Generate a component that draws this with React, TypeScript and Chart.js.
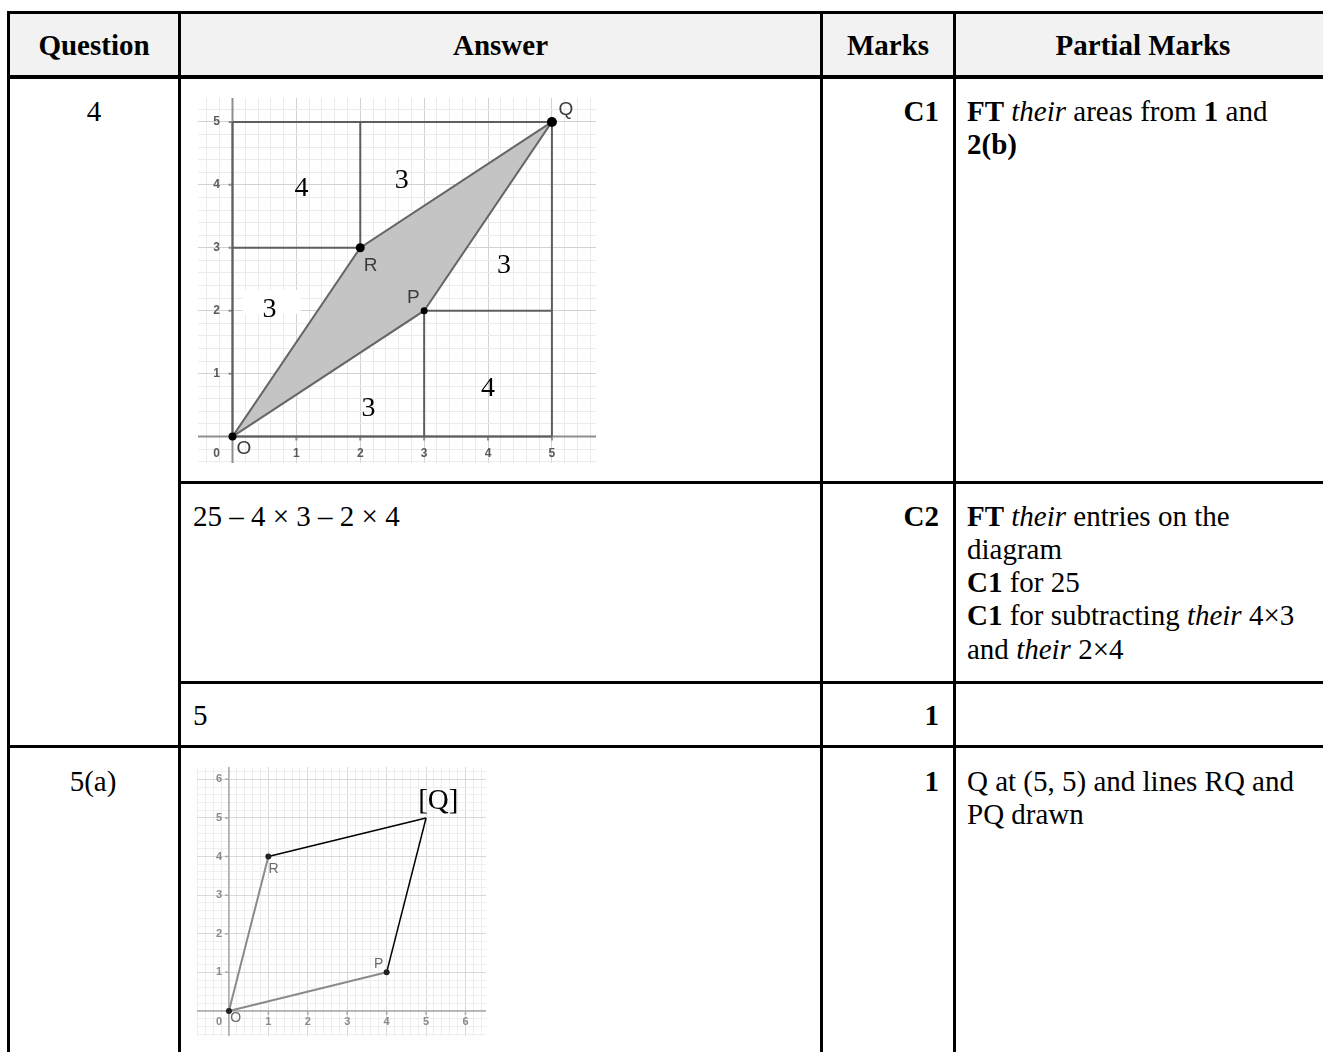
import React, { useEffect, useRef } from "react";
import { Chart, registerables } from "chart.js";

Chart.register(...registerables);

// ---------- Table text ----------
const HEADERS = ["Question", "Answer", "Marks", "Partial Marks"];
const QUESTIONS = ["4", "5(a)"];
const ANSWERS = ["25 – 4 × 3 – 2 × 4", "5"];
const MARKS = ["C1", "C2", "1", "1"];

// ---------- Question 4 diagram ----------
const Q4_RANGE = { xMin: -0.54, xMax: 5.69, yMin: -0.42, yMax: 5.38 };
const Q4_X_TICKS = [1, 2, 3, 4, 5];
const Q4_Y_TICKS = [1, 2, 3, 4, 5];
const Q4_POLY_X = [0, 2, 5, 3, 0];
const Q4_POLY_Y = [0, 3, 5, 2, 0];
const Q4_SEGMENTS = [
  [0, 0, 5, 0],
  [0, 0, 0, 5],
  [0, 5, 5, 5],
  [5, 0, 5, 5],
  [2, 3, 2, 5],
  [0, 3, 2, 3],
  [3, 2, 5, 2],
  [3, 0, 3, 2],
];
const Q4_POINT_X = [0, 2, 3, 5];
const Q4_POINT_Y = [0, 3, 2, 5];
const Q4_POINT_R = [4, 4.5, 3.5, 5];
const Q4_NAMES = ["O", "R", "P", "Q"];
const Q4_NAME_X = [0.18, 2.16, 2.83, 5.22];
const Q4_NAME_Y = [-0.2, 2.72, 2.2, 5.19];
const Q4_AREAS = ["4", "3", "3", "3", "4", "3"];
const Q4_AREA_X = [1.08, 2.65, 4.25, 0.58, 4.0, 2.13];
const Q4_AREA_Y = [3.94, 4.06, 2.71, 2.01, 0.76, 0.44];

// ---------- Question 5(a) diagram ----------
const Q5_RANGE = { xMin: -0.81, xMax: 6.52, yMin: -0.65, yMax: 6.32 };
const Q5_X_TICKS = [1, 2, 3, 4, 5, 6];
const Q5_Y_TICKS = [1, 2, 3, 4, 5, 6];
const Q5_GIVEN = [
  [0, 0, 1, 4],
  [0, 0, 4, 1],
];
const Q5_DRAWN = [
  [1, 4, 5, 5],
  [4, 1, 5, 5],
];
const Q5_POINT_X = [0, 1, 4];
const Q5_POINT_Y = [0, 4, 1];
const Q5_NAMES = ["O", "R", "P"];
const Q5_NAME_X = [0.17, 1.13, 3.8];
const Q5_NAME_Y = [-0.2, 3.68, 1.2];
const Q5_ANSWER_LABEL = "[Q]";
const Q5_ANSWER_X = 5.31;
const Q5_ANSWER_Y = 5.42;

const SERIF = '"Liberation Serif", "Times New Roman", serif';
const SANS = '"Liberation Sans", Arial, sans-serif';

function gridValues(min: number, max: number): number[] {
  const out: number[] = [];
  for (let i = Math.ceil(min * 5); i <= Math.floor(max * 5); i++) out.push(i / 5);
  return out;
}

type Label = { text: string; x: number; y: number; font: string; color: string; bg?: boolean };

type GeoConfig = {
  width: number;
  height: number;
  range: { xMin: number; xMax: number; yMin: number; yMax: number };
  xTicks: number[];
  yTicks: number[];
  tickFont: string;
  tickColor: string;
  xLabelOffset: number;
  yLabelOffset: number;
  axisColor: string;
  axisWidth: number;
  majorGrid: string;
  minorGrid: string;
  datasets: any[];
  labels: Label[];
};

function GeoChart({ cfg, style }: { cfg: GeoConfig; style: React.CSSProperties }) {
  const ref = useRef<HTMLCanvasElement | null>(null);
  useEffect(() => {
    if (!ref.current) return;
    const xs = gridValues(cfg.range.xMin, cfg.range.xMax);
    const ys = gridValues(cfg.range.yMin, cfg.range.yMax);
    const isMajor = (v: number) => Math.abs(v - Math.round(v)) < 1e-6;
    const gridColor = (c: any) => (c.tick && isMajor(c.tick.value) ? cfg.majorGrid : cfg.minorGrid);

    const plugin = {
      id: "geo",
      beforeDatasetsDraw(chart: any) {
        const { ctx, chartArea } = chart;
        const sx = chart.scales.x;
        const sy = chart.scales.y;
        const x0 = sx.getPixelForValue(0);
        const y0 = sy.getPixelForValue(0);
        ctx.save();
        ctx.strokeStyle = cfg.axisColor;
        ctx.lineWidth = cfg.axisWidth;
        ctx.beginPath();
        ctx.moveTo(chartArea.left, y0);
        ctx.lineTo(chartArea.right, y0);
        ctx.moveTo(x0, chartArea.top);
        ctx.lineTo(x0, chartArea.bottom);
        cfg.xTicks.forEach((v) => {
          const px = sx.getPixelForValue(v);
          ctx.moveTo(px, y0);
          ctx.lineTo(px, y0 + 4);
        });
        cfg.yTicks.forEach((v) => {
          const py = sy.getPixelForValue(v);
          ctx.moveTo(x0 - 4, py);
          ctx.lineTo(x0, py);
        });
        ctx.stroke();
        ctx.fillStyle = cfg.tickColor;
        ctx.font = cfg.tickFont;
        ctx.textAlign = "center";
        ctx.textBaseline = "middle";
        cfg.xTicks.forEach((v) => ctx.fillText(String(v), sx.getPixelForValue(v), y0 + cfg.xLabelOffset));
        cfg.yTicks.forEach((v) => ctx.fillText(String(v), x0 + cfg.yLabelOffset, sy.getPixelForValue(v)));
        ctx.fillText("0", x0 + cfg.yLabelOffset, y0 + cfg.xLabelOffset);
        ctx.restore();
      },
      afterDatasetsDraw(chart: any) {
        const { ctx } = chart;
        const sx = chart.scales.x;
        const sy = chart.scales.y;
        ctx.save();
        ctx.textAlign = "center";
        ctx.textBaseline = "middle";
        cfg.labels.forEach((l) => {
          const px = sx.getPixelForValue(l.x);
          const py = sy.getPixelForValue(l.y);
          ctx.font = l.font;
          if (l.bg) {
            ctx.fillStyle = "#ffffff";
            ctx.fillRect(px - 27, py - 20, 58, 24);
          }
          ctx.fillStyle = l.color;
          ctx.fillText(l.text, px, py);
        });
        ctx.restore();
      },
    };

    const chart = new Chart(ref.current, {
      type: "line",
      data: { datasets: cfg.datasets },
      options: {
        animation: false,
        responsive: false,
        maintainAspectRatio: false,
        layout: { padding: 0 },
        plugins: { legend: { display: false }, tooltip: { enabled: false } },
        elements: { line: { tension: 0 } },
        scales: {
          x: {
            type: "linear",
            min: cfg.range.xMin,
            max: cfg.range.xMax,
            ticks: { display: false },
            border: { display: false },
            grid: { drawTicks: false, color: gridColor, lineWidth: 1 },
            afterBuildTicks: (axis: any) => {
              axis.ticks = xs.map((v) => ({ value: v }));
            },
          },
          y: {
            type: "linear",
            min: cfg.range.yMin,
            max: cfg.range.yMax,
            ticks: { display: false },
            border: { display: false },
            grid: { drawTicks: false, color: gridColor, lineWidth: 1 },
            afterBuildTicks: (axis: any) => {
              axis.ticks = ys.map((v) => ({ value: v }));
            },
          },
        },
      } as any,
      plugins: [plugin],
    });
    return () => chart.destroy();
  }, [cfg]);
  return <canvas ref={ref} width={cfg.width} height={cfg.height} style={{ position: "absolute", width: cfg.width, height: cfg.height, ...style }} />;
}

function segmentDatasets(segs: number[][], color: string, width: number, order: number) {
  return segs.map((s) => ({
    data: [
      { x: s[0], y: s[1] },
      { x: s[2], y: s[3] },
    ],
    borderColor: color,
    borderWidth: width,
    pointRadius: 0,
    fill: false,
    order,
  }));
}

const q4Cfg: GeoConfig = {
  width: 408,
  height: 375,
  range: Q4_RANGE,
  xTicks: Q4_X_TICKS,
  yTicks: Q4_Y_TICKS,
  tickFont: `bold 12px ${SANS}`,
  tickColor: "#5a5a5a",
  xLabelOffset: 17,
  yLabelOffset: -16,
  axisColor: "#8e8e8e",
  axisWidth: 2,
  majorGrid: "#d2d2d2",
  minorGrid: "#ebebeb",
  datasets: [
    {
      data: Q4_POINT_X.map((x, i) => ({ x, y: Q4_POINT_Y[i] })),
      showLine: false,
      pointRadius: Q4_POINT_R,
      pointBackgroundColor: "#000",
      pointBorderColor: "#000",
      pointBorderWidth: 0,
      order: 0,
    },
    ...segmentDatasets(Q4_SEGMENTS, "#5e5e5e", 2, 1),
    {
      data: Q4_POLY_X.map((x, i) => ({ x, y: Q4_POLY_Y[i] })),
      borderColor: "#666",
      borderWidth: 2,
      backgroundColor: "#c4c4c4",
      pointRadius: 0,
      fill: "shape",
      order: 2,
    },
  ],
  labels: [
    ...Q4_NAMES.map((t, i) => ({ text: t, x: Q4_NAME_X[i], y: Q4_NAME_Y[i], font: `19px ${SANS}`, color: "#3c3c3c" })),
    ...Q4_AREAS.map((t, i) => ({
      text: t,
      x: Q4_AREA_X[i],
      y: Q4_AREA_Y[i],
      font: `28px ${SERIF}`,
      color: "#000",
      bg: i === 3,
    })),
  ],
};

const q5Cfg: GeoConfig = {
  width: 297,
  height: 277,
  range: Q5_RANGE,
  xTicks: Q5_X_TICKS,
  yTicks: Q5_Y_TICKS,
  tickFont: `bold 11px ${SANS}`,
  tickColor: "#8a8a8a",
  xLabelOffset: 11,
  yLabelOffset: -10,
  axisColor: "#a8a8a8",
  axisWidth: 1.5,
  majorGrid: "#d8d8d8",
  minorGrid: "#eeeeee",
  datasets: [
    {
      data: Q5_POINT_X.map((x, i) => ({ x, y: Q5_POINT_Y[i] })),
      showLine: false,
      pointRadius: 3,
      pointBackgroundColor: "#222",
      pointBorderColor: "#222",
      pointBorderWidth: 0,
      order: 0,
    },
    ...segmentDatasets(Q5_DRAWN, "#000", 1.5, 1),
    ...segmentDatasets(Q5_GIVEN, "#8a8a8a", 2, 2),
  ],
  labels: [
    ...Q5_NAMES.map((t, i) => ({ text: t, x: Q5_NAME_X[i], y: Q5_NAME_Y[i], font: `14px ${SANS}`, color: "#6a6a6a" })),
    { text: Q5_ANSWER_LABEL, x: Q5_ANSWER_X, y: Q5_ANSWER_Y, font: `29px ${SERIF}`, color: "#000" },
  ],
};

const LH = 33.3;

const baseText: React.CSSProperties = {
  position: "absolute",
  fontFamily: SERIF,
  fontSize: 29,
  lineHeight: `${LH}px`,
  whiteSpace: "nowrap",
  color: "#000",
};

function Line({ l, t, w, h }: { l: number; t: number; w: number; h: number }) {
  return <div style={{ position: "absolute", left: l, top: t, width: w, height: h, background: "#000" }} />;
}

export default function App() {
  const hdrT = 28.6;
  const r1 = 94.6;
  const r2 = 499.6;
  const r3 = 698.6;
  const r4 = 764.6;
  const colL = [10, 181, 823, 956];
  const colR = [178, 820, 953, 1330];
  return (
    <div
      style={{
        position: "fixed",
        left: 0,
        top: 0,
        width: 1323,
        height: 1052,
        overflow: "hidden",
        background: "#fff",
      }}
    >
      <div style={{ position: "absolute", left: 10, top: 14, width: 1320, height: 61, background: "#f2f2f2" }} />

      {HEADERS.map((h, i) => (
        <div
          key={h}
          style={{ ...baseText, top: hdrT, left: colL[i], width: colR[i] - colL[i], textAlign: "center", fontWeight: "bold" }}
        >
          {h}
        </div>
      ))}

      {/* Question column */}
      <div style={{ ...baseText, top: r1, left: 10, width: 168, textAlign: "center" }}>{QUESTIONS[0]}</div>
      <div style={{ ...baseText, top: r4, left: 9, width: 168, textAlign: "center" }}>{QUESTIONS[1]}</div>

      {/* Answer column */}
      <GeoChart cfg={q4Cfg} style={{ left: 193, top: 93 }} />
      <div style={{ ...baseText, top: r2, left: 193 }}>{ANSWERS[0]}</div>
      <div style={{ ...baseText, top: r3, left: 193 }}>{ANSWERS[1]}</div>
      <GeoChart cfg={q5Cfg} style={{ left: 193, top: 763 }} />

      {/* Marks column */}
      {[r1, r2, r3, r4].map((t, i) => (
        <div key={i} style={{ ...baseText, top: t, left: 823, width: 116, textAlign: "right", fontWeight: "bold" }}>
          {MARKS[i]}
        </div>
      ))}

      {/* Partial marks column */}
      <div style={{ ...baseText, top: r1, left: 967 }}>
        <b>FT</b> <i>their</i> areas from <b>1</b> and
        <br />
        <b>2(b)</b>
      </div>
      <div style={{ ...baseText, top: r2, left: 967 }}>
        <b>FT</b> <i>their</i> entries on the
        <br />
        diagram
        <br />
        <b>C1</b> for 25
        <br />
        <b>C1</b> for subtracting <i>their</i> 4×3
        <br />
        and <i>their</i> 2×4
      </div>
      <div style={{ ...baseText, top: r4, left: 967 }}>
        Q at (5, 5) and lines RQ and
        <br />
        PQ drawn
      </div>

      {/* Rules */}
      <Line l={7} t={11} w={1330} h={3} />
      <Line l={7} t={75} w={1330} h={4} />
      <Line l={178} t={481} w={1160} h={3} />
      <Line l={178} t={681} w={1160} h={3} />
      <Line l={7} t={745} w={1330} h={3} />
      <Line l={7} t={11} w={3} h={1060} />
      <Line l={178} t={11} w={3} h={1060} />
      <Line l={820} t={11} w={3} h={1060} />
      <Line l={953} t={11} w={3} h={1060} />
    </div>
  );
}
